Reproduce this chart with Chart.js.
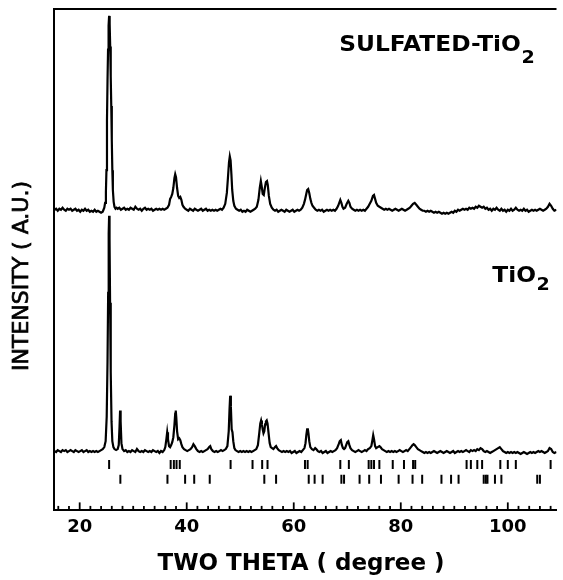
<!DOCTYPE html>
<html>
<head>
<meta charset="utf-8">
<script src="https://cdn.jsdelivr.net/npm/chart.js@4.4.1/dist/chart.umd.min.js"></script>
<style>
  html, body { margin: 0; padding: 0; background: #fff; }
</style>
</head>
<body>
<canvas id="xrd" width="563" height="580"></canvas>
<script>
// 2-theta (degree) / intensity above the trace's own baseline (a.u.)
const sulfatedPattern = [
  [15.3,0],[15.6,1],[15.9,-1],[16.2,1],[16.5,0],[16.8,2],[17.1,0],[17.4,-1],[17.7,1],[18.0,0],
  [18.3,1],[18.6,-1],[18.9,0],[19.2,1],[19.5,-1],[19.8,0],[20.1,-2],[20.4,0],[20.7,-1],[21.0,1],
  [21.3,-1],[21.6,0],[21.9,-2],[22.2,-1],[22.5,-2],[22.8,0],[23.1,-2],[23.4,-1],[23.7,-2],[24.0,-3],
  [24.3,-2],[24.45,0],[24.6,2],[24.75,7],[24.9,18],[25.0,40],[25.1,90],[25.2,130],[25.3,162],[25.4,186],
  [25.5,196],[25.6,188],[25.7,165],[25.8,135],[25.9,105],[26.0,70],[26.1,40],[26.2,20],[26.35,8],[26.5,3],
  [26.7,1],[26.9,2],[27.1,1],[27.4,2],[27.7,0],[28.0,1],[28.3,2],[28.6,0],[28.9,1],[29.2,0],
  [29.5,2],[29.8,1],[30.1,0],[30.4,3],[30.7,1],[31.0,0],[31.3,1],[31.6,-1],[31.9,1],[32.2,2],
  [32.5,0],[32.8,1],[33.1,0],[33.4,1],[33.7,-1],[34.0,0],[34.3,1],[34.6,0],[34.9,1],[35.2,0],
  [35.5,1],[35.8,0],[36.1,1],[36.4,2],[36.7,5],[36.9,11],[37.1,13],[37.3,16],[37.5,22],[37.7,32],
  [37.85,36],[38.0,33],[38.2,22],[38.4,14],[38.6,12],[38.8,13],[39.0,10],[39.2,5],[39.4,3],[39.7,1],
  [40.0,0],[40.3,-1],[40.6,1],[40.9,0],[41.2,-1],[41.5,1],[41.8,0],[42.1,-1],[42.4,0],[42.7,1],
  [43.0,-1],[43.3,0],[43.6,1],[43.9,-1],[44.2,0],[44.5,-1],[44.8,0],[45.1,-1],[45.4,0],[45.7,-1],
  [46.0,0],[46.3,1],[46.6,0],[46.9,2],[47.2,6],[47.5,17],[47.7,32],[47.9,48],[48.05,54],[48.2,50],
  [48.35,36],[48.5,20],[48.7,9],[48.9,4],[49.2,1],[49.5,0],[49.8,-1],[50.1,0],[50.4,-2],[50.7,-1],
  [51.0,-2],[51.3,0],[51.6,-1],[51.9,-2],[52.2,-1],[52.5,0],[52.8,1],[53.1,3],[53.4,10],[53.65,22],
  [53.85,29],[54.0,24],[54.2,16],[54.4,15],[54.6,22],[54.8,28],[55.0,29],[55.15,25],[55.35,14],[55.6,6],
  [55.9,2],[56.2,0],[56.5,-1],[56.8,0],[57.1,-2],[57.4,-1],[57.7,0],[58.0,-1],[58.3,-2],[58.6,0],
  [58.9,-1],[59.2,-2],[59.5,-1],[59.8,0],[60.1,-2],[60.4,-1],[60.7,0],[61.0,-1],[61.3,0],[61.6,2],
  [61.9,6],[62.1,10],[62.3,15],[62.5,20],[62.7,21],[62.9,17],[63.1,11],[63.3,7],[63.5,4],[63.8,2],
  [64.1,0],[64.4,-1],[64.7,0],[65.0,-1],[65.3,0],[65.6,-2],[65.9,-1],[66.2,0],[66.5,-1],[66.8,0],
  [67.1,-1],[67.4,0],[67.7,-1],[68.0,1],[68.3,4],[68.5,7],[68.7,10],[68.9,7],[69.1,3],[69.3,1],
  [69.6,2],[69.9,6],[70.2,9],[70.4,7],[70.6,3],[70.9,1],[71.2,0],[71.5,-1],[71.8,0],[72.1,-1],
  [72.4,0],[72.7,-1],[73.0,0],[73.3,-1],[73.6,1],[73.9,3],[74.2,6],[74.5,9],[74.8,14],[75.0,15],
  [75.2,11],[75.4,7],[75.7,4],[76.0,3],[76.3,2],[76.6,1],[76.9,0],[77.2,1],[77.5,0],[77.8,1],
  [78.1,0],[78.4,-1],[78.7,0],[79.0,1],[79.3,0],[79.6,-1],[79.9,0],[80.2,1],[80.5,0],[80.8,-1],
  [81.1,0],[81.4,1],[81.7,2],[82.0,4],[82.3,6],[82.6,7],[82.9,5],[83.2,3],[83.5,1],[83.8,0],
  [84.1,-1],[84.4,-1],[84.7,-2],[85.0,-1],[85.3,-2],[85.6,-1],[85.9,-2],[86.2,-3],[86.5,-2],[86.8,-3],
  [87.1,-2],[87.4,-3],[87.7,-4],[88.0,-3],[88.3,-4],[88.6,-3],[88.9,-4],[89.2,-3],[89.5,-2],[89.8,-3],
  [90.1,-1],[90.4,-2],[90.7,0],[91.0,-1],[91.3,0],[91.6,1],[91.9,0],[92.2,1],[92.5,0],[92.8,2],
  [93.1,1],[93.4,2],[93.7,1],[94.0,3],[94.3,2],[94.6,4],[94.9,3],[95.2,2],[95.5,3],[95.8,1],
  [96.1,2],[96.4,0],[96.7,1],[97.0,-1],[97.3,1],[97.6,0],[97.9,2],[98.2,0],[98.5,-1],[98.8,1],
  [99.1,-1],[99.4,0],[99.7,-2],[100.0,0],[100.3,-1],[100.6,1],[100.9,-1],[101.2,0],[101.5,2],[101.8,0],
  [102.1,-1],[102.4,0],[102.7,-1],[103.0,1],[103.3,-1],[103.6,0],[103.9,-2],[104.2,-1],[104.5,0],[104.8,-1],
  [105.1,0],[105.4,-1],[105.7,0],[106.0,1],[106.3,0],[106.6,-1],[106.9,0],[107.2,1],[107.5,3],[107.8,6],
  [108.1,4],[108.4,1],[108.7,-1],[109.1,0]
];

const tio2Pattern = [
  [15.3,0],[15.6,-1],[15.9,1],[16.2,0],[16.5,-1],[16.8,1],[17.1,0],[17.4,1],[17.7,-1],[18.0,0],
  [18.3,1],[18.6,0],[18.9,-1],[19.2,1],[19.5,0],[19.8,-1],[20.1,0],[20.4,1],[20.7,-1],[21.0,0],
  [21.3,1],[21.6,-1],[21.9,0],[22.2,-1],[22.5,0],[22.8,-1],[23.1,0],[23.4,-1],[23.7,0],[24.0,1],
  [24.3,2],[24.6,4],[24.85,10],[25.05,35],[25.2,90],[25.32,160],[25.42,220],[25.5,238],[25.58,215],[25.68,150],
  [25.8,80],[25.95,30],[26.1,10],[26.3,4],[26.5,2],[26.8,1],[27.1,2],[27.3,6],[27.45,25],[27.55,41],
  [27.65,30],[27.8,8],[28.0,2],[28.3,0],[28.6,1],[28.9,-1],[29.2,0],[29.5,-1],[29.8,1],[30.1,0],
  [30.4,-1],[30.7,2],[31.0,0],[31.3,-1],[31.6,0],[31.9,-1],[32.2,1],[32.5,0],[32.8,-1],[33.1,0],
  [33.4,-1],[33.7,1],[34.0,0],[34.3,-1],[34.6,0],[34.9,-2],[35.2,0],[35.5,-1],[35.8,1],[36.0,4],
  [36.2,12],[36.35,19],[36.5,12],[36.7,5],[36.9,4],[37.1,6],[37.3,9],[37.5,14],[37.7,26],[37.85,38],
  [37.95,41],[38.05,34],[38.2,20],[38.4,12],[38.6,13],[38.8,11],[39.0,7],[39.2,4],[39.5,2],[39.8,1],
  [40.1,0],[40.4,1],[40.7,2],[41.0,4],[41.25,7],[41.5,5],[41.8,2],[42.1,0],[42.4,-1],[42.7,0],
  [43.0,-1],[43.3,0],[43.6,1],[43.9,2],[44.2,4],[44.4,5],[44.6,2],[44.9,0],[45.2,-1],[45.5,0],
  [45.8,-1],[46.1,0],[46.4,1],[46.7,0],[47.0,1],[47.3,2],[47.6,5],[47.85,20],[48.0,42],[48.12,56],
  [48.25,45],[48.4,22],[48.55,19],[48.7,10],[48.9,3],[49.1,1],[49.4,0],[49.7,-1],[50.0,0],[50.3,-1],
  [50.6,0],[50.9,-1],[51.2,0],[51.5,-1],[51.8,0],[52.1,-1],[52.4,0],[52.7,1],[53.0,2],[53.3,6],
  [53.55,18],[53.75,28],[53.9,31],[54.05,27],[54.2,22],[54.35,18],[54.5,20],[54.65,27],[54.8,30],[54.95,31],
  [55.1,28],[55.3,18],[55.5,8],[55.7,4],[55.95,3],[56.2,2],[56.5,4],[56.7,5],[56.9,3],[57.2,1],
  [57.5,0],[57.8,-1],[58.1,0],[58.4,-1],[58.7,0],[59.0,-1],[59.3,0],[59.6,-2],[59.9,-1],[60.2,0],
  [60.5,-2],[60.8,-1],[61.1,0],[61.4,-1],[61.7,1],[62.0,3],[62.2,8],[62.35,16],[62.5,22],[62.62,23],
  [62.75,18],[62.9,10],[63.1,4],[63.4,2],[63.7,1],[64.0,3],[64.2,2],[64.5,0],[64.8,-1],[65.1,0],
  [65.4,-2],[65.7,-1],[66.0,0],[66.3,-2],[66.6,-1],[66.9,0],[67.2,-1],[67.5,0],[67.8,1],[68.1,3],
  [68.4,7],[68.6,10],[68.8,11],[69.0,6],[69.2,3],[69.4,2],[69.6,3],[69.8,6],[70.0,9],[70.2,10],
  [70.4,6],[70.6,3],[70.9,1],[71.2,0],[71.5,-1],[71.8,0],[72.1,1],[72.4,0],[72.7,-1],[73.0,0],
  [73.3,1],[73.6,0],[73.9,2],[74.2,3],[74.5,5],[74.7,11],[74.85,16],[75.0,12],[75.2,5],[75.4,3],
  [75.7,4],[76.0,5],[76.2,4],[76.5,2],[76.8,1],[77.1,0],[77.4,-1],[77.7,0],[78.0,-1],[78.3,0],
  [78.6,-1],[78.9,0],[79.2,-1],[79.5,0],[79.8,1],[80.1,0],[80.4,-1],[80.7,0],[81.0,1],[81.3,0],
  [81.6,2],[81.9,4],[82.2,6],[82.4,7],[82.6,6],[82.9,4],[83.2,2],[83.5,1],[83.8,0],[84.1,-1],
  [84.4,-2],[84.7,-1],[85.0,-2],[85.3,-1],[85.6,-2],[85.9,-1],[86.2,0],[86.5,-1],[86.8,-2],[87.1,-1],
  [87.4,0],[87.7,-1],[88.0,-2],[88.3,-1],[88.6,0],[88.9,-1],[89.2,-2],[89.5,-1],[89.8,0],[90.1,-2],
  [90.4,-1],[90.7,0],[91.0,-1],[91.3,0],[91.6,-1],[91.9,0],[92.2,1],[92.5,0],[92.8,-1],[93.1,1],
  [93.4,0],[93.7,1],[94.0,0],[94.3,2],[94.6,1],[94.9,3],[95.2,2],[95.5,0],[95.8,-1],[96.1,0],
  [96.4,-1],[96.7,-2],[97.0,-1],[97.3,0],[97.6,1],[97.9,2],[98.2,3],[98.5,4],[98.8,2],[99.1,0],
  [99.4,-1],[99.7,-2],[100.0,-1],[100.3,-2],[100.6,-1],[100.9,-2],[101.2,-1],[101.5,-2],[101.8,-1],[102.1,-2],
  [102.4,-3],[102.7,-2],[103.0,-1],[103.3,-2],[103.6,-3],[103.9,-2],[104.2,-1],[104.5,-2],[104.8,-1],[105.1,-2],
  [105.4,-1],[105.7,0],[106.0,-1],[106.3,0],[106.6,-1],[106.9,-2],[107.2,-1],[107.5,0],[107.8,3],[108.1,2],
  [108.4,-1],[108.7,-2],[109.1,-1]
];

// reference reflection positions (2-theta) shown as bar markers under the traces
const anataseLines = [25.5, 37.0, 37.6, 38.1, 38.7, 48.2, 52.3, 54.1, 55.1, 62.1, 62.6, 68.7, 70.3,
  74.0, 74.5, 75.0, 76.0, 78.5, 80.6, 82.3, 82.7, 92.3, 93.1, 94.3, 95.2, 98.6, 100.0, 101.5, 108.0];
const rutileLines = [27.6, 36.4, 39.7, 41.4, 44.3, 54.5, 56.7, 62.8, 63.9, 65.4, 68.9, 69.4, 72.3,
  74.1, 76.3, 79.6, 82.2, 84.0, 87.6, 89.4, 90.8, 95.5, 95.9, 96.2, 97.6, 98.8, 105.5, 106.0];

const xTickLabels = [20, 40, 60, 80, 100];
const xMinorStep = 2;

// vertical stacking of the two patterns (plot units)
const SULFATED_OFFSET = 304;
const TIO2_OFFSET = 60;
const ANATASE_ROW = 46.5;
const RUTILE_ROW = 31.5;

Chart.defaults.font.family = '"DejaVu Sans", "Liberation Sans", sans-serif';
Chart.defaults.color = '#000';

function drawFormula(ctx, main, sub, px, py, drop) {
  ctx.save();
  ctx.translate(px, py);
  ctx.scale(1.06, 1);
  ctx.textAlign = 'left';
  ctx.textBaseline = 'alphabetic';
  ctx.font = 'bold 22px "DejaVu Sans"';
  ctx.fillText(main, 0, 0);
  const w = ctx.measureText(main).width;
  ctx.font = 'bold 18px "DejaVu Sans"';
  ctx.fillText(sub, w + 0.5, drop);
  ctx.restore();
}

const frame = {
  id: 'frame',
  afterDraw(chart) {
    const { ctx, chartArea: a, scales: { x, y } } = chart;
    ctx.save();
    ctx.strokeStyle = '#000';
    ctx.fillStyle = '#000';

    // top edge of the frame
    ctx.lineWidth = 2;
    ctx.beginPath();
    ctx.moveTo(a.left, a.top);
    ctx.lineTo(a.right, a.top);
    ctx.stroke();

    // tick marks point inwards (up) from the 2-theta axis
    ctx.lineWidth = 1.8;
    x.ticks.forEach(t => {
      const px = x.getPixelForValue(t.value);
      const len = xTickLabels.includes(t.value) ? 8 : 4.5;
      ctx.beginPath();
      ctx.moveTo(px, a.bottom);
      ctx.lineTo(px, a.bottom - len);
      ctx.stroke();
    });

    // sample labels
    drawFormula(ctx, 'SULFATED-TiO', '2', x.getPixelForValue(68.5), y.getPixelForValue(465), 12);
    drawFormula(ctx, 'TiO', '2', x.getPixelForValue(97.1), y.getPixelForValue(231), 8);

    // axis titles
    ctx.textAlign = 'center';
    ctx.textBaseline = 'middle';
    ctx.save();
    ctx.translate(22, 276);
    ctx.rotate(-Math.PI / 2);
    ctx.font = '22px "DejaVu Sans"';
    ctx.lineWidth = 0.7;
    ctx.fillText('INTENSITY ( A.U.)', 0, 0);
    ctx.strokeText('INTENSITY ( A.U.)', 0, 0);
    ctx.restore();

    ctx.font = 'bold 23px "DejaVu Sans"';
    ctx.fillText('TWO THETA ( degree )', 301, 564);
    ctx.restore();
  }
};

const ctx = document.getElementById('xrd').getContext('2d');
new Chart(ctx, {
  type: 'line',
  data: {
    datasets: [
      {
        label: 'SULFATED-TiO2',
        data: sulfatedPattern.map(p => ({ x: p[0], y: p[1] + SULFATED_OFFSET })),
        borderColor: '#000',
        borderWidth: 2.2,
        pointRadius: 0,
        tension: 0
      },
      {
        label: 'TiO2',
        data: tio2Pattern.map(p => ({ x: p[0], y: p[1] + TIO2_OFFSET })),
        borderColor: '#000',
        borderWidth: 2.2,
        pointRadius: 0,
        tension: 0
      },
      {
        label: 'anatase',
        data: anataseLines.map(v => ({ x: v, y: ANATASE_ROW })),
        showLine: false,
        pointStyle: 'line',
        rotation: 90,
        pointRadius: 4.5,
        pointBorderWidth: 2,
        pointBorderColor: '#000'
      },
      {
        label: 'rutile',
        data: rutileLines.map(v => ({ x: v, y: RUTILE_ROW })),
        showLine: false,
        pointStyle: 'line',
        rotation: 90,
        pointRadius: 4.5,
        pointBorderWidth: 2,
        pointBorderColor: '#000'
      }
    ]
  },
  options: {
    responsive: false,
    animation: false,
    layout: { padding: { left: 54, right: 0, top: 9, bottom: 36 } },
    plugins: { legend: { display: false }, tooltip: { enabled: false } },
    scales: {
      x: {
        type: 'linear',
        min: 15.2,
        max: 109.1,
        afterBuildTicks: scale => {
          const ticks = [];
          for (let v = 16; v <= 108; v += xMinorStep) ticks.push({ value: v });
          scale.ticks = ticks;
        },
        ticks: {
          autoSkip: false,
          maxRotation: 0,
          minRotation: 0,
          padding: 6,
          font: { size: 18, weight: 'bold' },
          callback: v => xTickLabels.includes(v) ? String(v) : ''
        },
        grid: { display: false, drawTicks: false },
        border: { display: true, color: '#000', width: 2 }
      },
      y: {
        type: 'linear',
        min: 0,
        max: 507,
        ticks: { display: false },
        grid: { display: false, drawTicks: false },
        border: { display: true, color: '#000', width: 2 }
      }
    }
  },
  plugins: [frame]
});
</script>
</body>
</html>
